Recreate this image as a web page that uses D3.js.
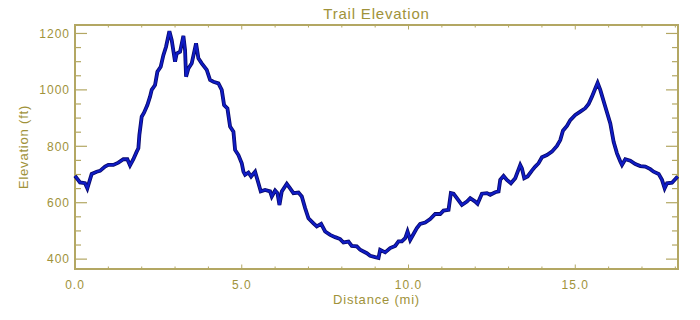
<!DOCTYPE html>
<html>
<head>
<meta charset="utf-8">
<script src="https://cdn.jsdelivr.net/npm/d3@7"></script>
<style>
  body { margin: 0; background: #fff; }
  text { font-family: "Liberation Sans", Arial, sans-serif; fill: #a0923a; }
</style>
</head>
<body>
<div id="chart"></div>
<script>
// trail profile: distance (mi) and elevation (ft)
var distance = [0, 0.15, 0.30, 0.37, 0.50, 0.65, 0.75, 0.90, 1.00, 1.15, 1.30, 1.45, 1.57, 1.65, 1.75, 1.85, 1.90, 1.93, 2.00, 2.07,
  2.17, 2.25, 2.30, 2.40, 2.47, 2.57, 2.65, 2.73, 2.83, 2.90, 3.00, 3.05, 3.15, 3.25, 3.30, 3.33, 3.40, 3.50, 3.63, 3.70,
  3.80, 3.95, 4.05, 4.15, 4.30, 4.40, 4.47, 4.57, 4.65, 4.75, 4.80, 4.90, 5.00, 5.05, 5.10, 5.20, 5.28, 5.40, 5.50, 5.57,
  5.70, 5.85, 5.90, 6.00, 6.07, 6.13, 6.20, 6.35, 6.45, 6.55, 6.70, 6.80, 6.90, 7.00, 7.15, 7.25, 7.38, 7.50, 7.65, 7.80,
  7.95, 8.05, 8.20, 8.30, 8.45, 8.55, 8.65, 8.75, 8.85, 9.00, 9.10, 9.15, 9.30, 9.45, 9.60, 9.70, 9.80, 9.90, 9.97, 10.05,
  10.15, 10.25, 10.35, 10.50, 10.65, 10.80, 10.95, 11.05, 11.20, 11.27, 11.35, 11.45, 11.60, 11.75, 11.85, 12.00, 12.07, 12.20, 12.35, 12.45,
  12.60, 12.70, 12.75, 12.85, 12.95, 13.07, 13.20, 13.35, 13.40, 13.47, 13.57, 13.70, 13.80, 13.90, 14.00, 14.15, 14.30, 14.45, 14.55, 14.63,
  14.75, 14.85, 15.00, 15.15, 15.30, 15.40, 15.50, 15.60, 15.67, 15.75, 15.90, 16.05, 16.15, 16.25, 16.35, 16.40, 16.50, 16.65, 16.80, 16.95,
  17.10, 17.25, 17.35, 17.50, 17.60, 17.68, 17.75, 17.90, 18.07]
var elevation = [695, 672, 669, 651, 702, 710, 713, 728, 734, 734, 742, 754, 754, 732, 754, 781, 793, 840, 905, 919,
  946, 976, 1000, 1017, 1064, 1082, 1123, 1153, 1208, 1176, 1100, 1129, 1135, 1191, 1141, 1047, 1076, 1094, 1165, 1112,
  1094, 1071, 1035, 1029, 1023, 1000, 946, 934, 870, 852, 787, 769, 740, 710, 699, 707, 693, 710, 669, 640,
  645, 640, 622, 643, 634, 592, 640, 667, 651, 634, 636, 622, 581, 545, 527, 516, 525, 498, 486, 478,
  471, 459, 462, 447, 445, 433, 427, 421, 412, 407, 404, 433, 424, 439, 447, 463, 463, 474, 498, 468,
  489, 510, 525, 530, 542, 560, 560, 572, 575, 634, 632, 616, 592, 604, 616, 604, 596, 632, 634, 628,
  637, 640, 681, 695, 681, 669, 687, 734, 722, 687, 693, 714, 728, 740, 761, 769, 781, 801, 822, 855,
  872, 893, 911, 923, 935, 950, 976, 1005, 1025, 1000, 940, 881, 816, 775, 746, 734, 754, 749, 737, 730,
  728, 719, 710, 702, 681, 651, 669, 671, 693]

var xMajor = [0, 5, 10, 15]
var yMajor = [400, 600, 800, 1000, 1200]

var width = 700,
    height = 320,
    margin = { top: 25, right: 22, bottom: 51, left: 75 }

var axisColor = "#b3a763"

var svg = d3.select("#chart").append("svg")
    .attr("width", width)
    .attr("height", height)

var x = d3.scaleLinear().domain([0, 18.08]).range([margin.left, width - margin.right])
var y = d3.scaleLinear().domain([365, 1230]).range([height - margin.bottom, margin.top])

var points = distance.map(function(d, i) { return [d, elevation[i]] })

// x ticks, bottom and top, every mile
var xMinor = d3.range(0, 18.5, 1)
var xb = svg.append("g").attr("transform", "translate(0," + y.range()[0] + ")")
var xt = svg.append("g").attr("transform", "translate(0," + y.range()[1] + ")")
xMinor.forEach(function(v) {
  var len = xMajor.indexOf(v) >= 0 ? 4.5 : 2.5
  xb.append("line").attr("x1", x(v)).attr("x2", x(v)).attr("y1", 0).attr("y2", -len)
    .attr("stroke", axisColor).attr("stroke-width", 1)
  xt.append("line").attr("x1", x(v)).attr("x2", x(v)).attr("y1", 0).attr("y2", len)
    .attr("stroke", axisColor).attr("stroke-width", 1)
})
xb.selectAll("text.tl").data(xMajor).enter().append("text")
    .attr("x", function(d) { return x(d) })
    .attr("y", 20)
    .attr("text-anchor", "middle")
    .style("font-size", "12px")
    .style("letter-spacing", "1px")
    .text(function(d) { return d3.format(".1f")(d) })

// y ticks, left and right, every 50 ft
var yMinor = d3.range(400, 1201, 50)
yMinor.forEach(function(v) {
  var len = yMajor.indexOf(v) >= 0 ? 12 : 6
  svg.append("line").attr("x1", x.range()[0]).attr("x2", x.range()[0] + len)
    .attr("y1", y(v)).attr("y2", y(v))
    .attr("stroke", axisColor).attr("stroke-width", 1.2)
  svg.append("line").attr("x1", x.range()[1]).attr("x2", x.range()[1] - len)
    .attr("y1", y(v)).attr("y2", y(v))
    .attr("stroke", axisColor).attr("stroke-width", 1.2)
})
svg.selectAll("text.yl").data(yMajor).enter().append("text")
    .attr("x", x.range()[0] - 5)
    .attr("y", function(d) { return y(d) })
    .attr("dy", "0.36em")
    .attr("text-anchor", "end")
    .style("font-size", "12px")
    .style("letter-spacing", "1px")
    .text(function(d) { return d })

// frame
svg.append("rect")
    .attr("x", x.range()[0])
    .attr("y", y.range()[1])
    .attr("width", x.range()[1] - x.range()[0])
    .attr("height", y.range()[0] - y.range()[1])
    .attr("fill", "none")
    .attr("stroke", axisColor)
    .attr("stroke-width", 2)

// the trail line: dark edge then blue core
var line = d3.line()
    .x(function(d) { return x(d[0]) })
    .y(function(d) { return y(d[1]) })

svg.append("path").datum(points)
    .attr("d", line)
    .attr("fill", "none")
    .attr("stroke", "#08086a")
    .attr("stroke-width", 3.8)
svg.append("path").datum(points)
    .attr("d", line)
    .attr("fill", "none")
    .attr("stroke", "#0f1cc4")
    .attr("stroke-width", 2.2)

// titles
svg.append("text")
    .attr("x", (x.range()[0] + x.range()[1]) / 2)
    .attr("y", 19)
    .attr("text-anchor", "middle")
    .style("font-size", "15px")
    .style("letter-spacing", "0.8px")
    .text("Trail Elevation")

svg.append("text")
    .attr("x", (x.range()[0] + x.range()[1]) / 2)
    .attr("y", 304)
    .attr("text-anchor", "middle")
    .style("font-size", "13px")
    .style("letter-spacing", "0.8px")
    .text("Distance (mi)")

svg.append("text")
    .attr("transform", "translate(28," + (y.range()[0] + y.range()[1]) / 2 + ") rotate(-90)")
    .attr("text-anchor", "middle")
    .style("font-size", "13px")
    .style("letter-spacing", "0.8px")
    .text("Elevation (ft)")
</script>
</body>
</html>
